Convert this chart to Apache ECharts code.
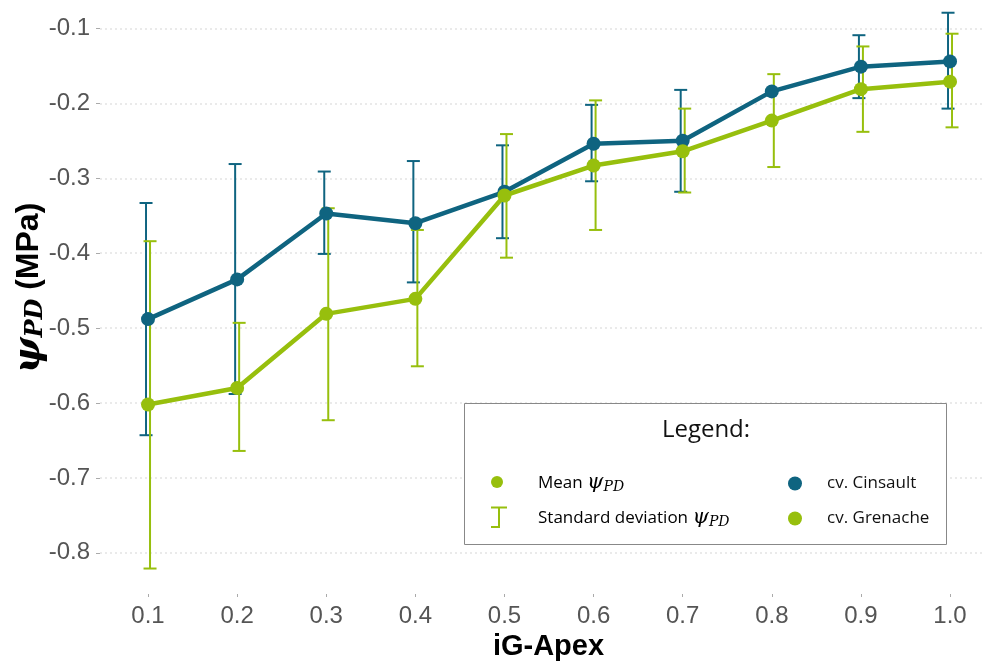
<!DOCTYPE html>
<html>
<head>
<meta charset="utf-8">
<script src="https://cdn.jsdelivr.net/npm/echarts@6/dist/echarts.min.js"></script>
<style>html,body{margin:0;padding:0;background:#fff}#c{width:983px;height:661px}</style>
</head>
<body>
<div id="c"></div>
<script>
// ---- data ----
const xValues = [0.1, 0.2, 0.3, 0.4, 0.5, 0.6, 0.7, 0.8, 0.9, 1.0];
const yTicks = [-0.8, -0.7, -0.6, -0.5, -0.4, -0.3, -0.2, -0.1];
const cinsaultMean = [-0.488, -0.435, -0.347, -0.360, -0.318, -0.254, -0.250, -0.184, -0.151, -0.144];
const cinsaultLow  = [-0.643, -0.588, -0.401, -0.439, -0.380, -0.304, -0.318, null, -0.193, -0.207];
const cinsaultHigh = [-0.333, -0.281, -0.291, -0.277, -0.256, -0.202, -0.182, null, -0.109, -0.079];
const grenacheMean = [-0.602, -0.580, -0.481, -0.461, -0.323, -0.283, -0.264, -0.223, -0.181, -0.171];
const grenacheLow  = [-0.821, -0.664, -0.623, -0.551, -0.406, -0.369, -0.319, -0.285, -0.238, -0.232];
const grenacheHigh = [-0.384, -0.493, -0.340, -0.369, -0.241, -0.196, -0.207, -0.161, -0.124, -0.107];

const C_COL = '#0f6480';
const G_COL = '#97bf0d';

function pairs(ys) { return xValues.map((x, i) => [x, ys[i]]); }
function bars(lo, hi) {
  const out = [];
  xValues.forEach((x, i) => { if (lo[i] != null && hi[i] != null) out.push([x, lo[i], hi[i]]); });
  return out;
}
function errRender(color, dx) {
  return function (params, api) {
    const lo = api.coord([api.value(0), api.value(1)]);
    const hi = api.coord([api.value(0), api.value(2)]);
    const x = lo[0] + dx, hw = 6.5;
    const st = { stroke: color, lineWidth: 2 };
    return {
      type: 'group',
      children: [
        { type: 'line', shape: { x1: x, y1: lo[1], x2: x, y2: hi[1] }, style: st },
        { type: 'line', shape: { x1: x - hw, y1: lo[1], x2: x + hw, y2: lo[1] }, style: st },
        { type: 'line', shape: { x1: x - hw, y1: hi[1], x2: x + hw, y2: hi[1] }, style: st }
      ]
    };
  };
}

const chart = echarts.init(document.getElementById('c'), null, { renderer: 'canvas' });
const psiRich = {
  t: { fontFamily: 'Open Sans', fontSize: 17, color: '#111' },
  psi: { fontFamily: 'DejaVu Serif', fontStyle: 'italic', fontSize: 21, color: '#111' },
  sub: { fontFamily: 'DejaVu Serif', fontStyle: 'italic', fontSize: 14, color: '#111', verticalAlign: 'bottom', padding: [8, 0, 0, 0] }
};
chart.setOption({
  animation: false,
  grid: { left: 100, right: 0, top: 0, bottom: 67, containLabel: false, outerBoundsMode: 'none' },
  xAxis: {
    type: 'value', min: 0.0461, max: 1.037,
    name: 'iG-Apex', nameLocation: 'middle', nameGap: 36,
    nameTextStyle: { fontFamily: 'Liberation Sans', fontWeight: 'bold', fontSize: 29, color: '#000', padding: [0, 0, 0, 14] },
    axisLine: { show: false },
    axisTick: { show: true, length: 3, lineStyle: { color: '#aaa' }, customValues: xValues },
    axisLabel: { fontFamily: 'Liberation Sans', fontSize: 24, color: '#555', margin: 10, customValues: xValues,
      formatter: v => v.toFixed(1) },
    splitLine: { show: false }
  },
  yAxis: {
    type: 'value', min: -0.855, max: -0.062,
    name: '{psi|ψ}{sub|PD}{t| (MPa)}', nameLocation: 'middle', nameGap: 52, nameRotate: 90,
    nameMoveOverlap: false,
    nameTextStyle: {
      rich: {
        psi: { fontFamily: 'DejaVu Serif', fontStyle: 'italic', fontWeight: 'bold', fontSize: 38, color: '#000' },
        sub: { fontFamily: 'DejaVu Serif', fontStyle: 'italic', fontWeight: 'bold', fontSize: 24, color: '#000', verticalAlign: 'bottom', padding: [13, 0, 0, 0] },
        t: { fontFamily: 'Liberation Sans', fontWeight: 'bold', fontSize: 32, color: '#000' }
      },
      padding: [0, 0, 0, 18]
    },
    axisLine: { show: false },
    axisTick: { show: true, length: 4, lineStyle: { color: '#aaa' }, customValues: yTicks },
    axisLabel: { fontFamily: 'Liberation Sans', fontSize: 24, color: '#555', margin: 10, customValues: yTicks,
      formatter: v => v.toFixed(1) },
    splitLine: { show: true, lineStyle: { color: '#e3e3e3', width: 1.5, type: [2, 3] } }
  },
  legend: {
    left: 788, top: 475, orient: 'vertical', itemGap: 18, z: 100, padding: 0,
    itemWidth: 14, itemHeight: 14,
    textStyle: { fontFamily: 'Open Sans', fontSize: 17, color: '#111', padding: [0, 0, 0, 20] },
    data: [
      { name: 'cv. Cinsault', icon: 'circle' },
      { name: 'cv. Grenache', icon: 'circle' }
    ]
  },
  graphic: [
    { type: 'rect', shape: { x: 464.5, y: 403.5, width: 482, height: 141 }, style: { fill: '#fff', stroke: '#888', lineWidth: 1 }, z: 50 },
    { type: 'text', x: 706, y: 430, z: 51, style: { text: 'Legend:', fontFamily: 'Open Sans', fontSize: 24, fill: '#111', align: 'center', verticalAlign: 'middle' } },
    { type: 'circle', shape: { cx: 497, cy: 482, r: 6 }, style: { fill: G_COL }, z: 51 },
    { type: 'text', x: 538, y: 483, z: 51, style: { text: '{t|Mean }{psi|ψ}{sub|PD}', rich: psiRich, verticalAlign: 'middle' } },
    { type: 'polyline', shape: { points: [[491, 507.5], [507, 507.5]] }, style: { stroke: G_COL, lineWidth: 2 }, z: 51 },
    { type: 'polyline', shape: { points: [[499, 507.5], [499, 527], [491, 527]] }, style: { stroke: G_COL, lineWidth: 2, fill: null }, z: 51 },
    { type: 'text', x: 538, y: 518, z: 51, style: { text: '{t|Standard deviation }{psi|ψ}{sub|PD}', rich: psiRich, verticalAlign: 'middle' } }
  ],
  series: [
    { name: 'sd Cinsault', type: 'custom', data: bars(cinsaultLow, cinsaultHigh), renderItem: errRender(C_COL, -2), z: 2, encode: { x: 0, y: [1, 2] } },
    { name: 'sd Grenache', type: 'custom', data: bars(grenacheLow, grenacheHigh), renderItem: errRender(G_COL, 2), z: 3, encode: { x: 0, y: [1, 2] } },
    { name: 'cv. Cinsault', type: 'line', data: pairs(cinsaultMean), z: 4,
      symbol: 'circle', symbolSize: 14, showAllSymbol: true,
      lineStyle: { color: C_COL, width: 4.5 }, itemStyle: { color: C_COL } },
    { name: 'cv. Grenache', type: 'line', data: pairs(grenacheMean), z: 5,
      symbol: 'circle', symbolSize: 14, showAllSymbol: true,
      lineStyle: { color: G_COL, width: 4.5 }, itemStyle: { color: G_COL } }
  ]
});
</script>
</body>
</html>
